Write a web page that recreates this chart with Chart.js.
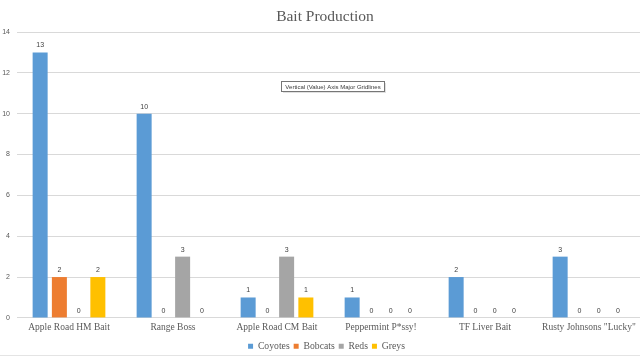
<!DOCTYPE html>
<html>
<head>
<meta charset="utf-8">
<script src="https://cdn.jsdelivr.net/npm/chart.js@4.4.1/dist/chart.umd.min.js"></script>
<style>
  html, body { margin:0; padding:0; background:#fff; overflow:hidden; }
  #wrap { position:relative; width:650px; height:357px; overflow:hidden; }
</style>
</head>
<body>
<div id="wrap"><canvas id="c" width="650" height="361"></canvas></div>
<script>
const categories = ['Apple Road HM Bait', 'Range Boss', 'Apple Road CM Bait', 'Peppermint P*ssy!', 'TF Liver Bait', 'Rusty Johnsons "Lucky"'];
const coyotes = [13, 10, 1, 1, 2, 3];
const bobcats = [2, 0, 0, 0, 0, 0];
const reds    = [0, 3, 3, 0, 0, 0];
const greys   = [2, 0, 1, 0, 0, 0];
const yTicks  = [0, 2, 4, 6, 8, 10, 12, 14];
const titleText = 'Bait Production';
const hoverNote = 'Vertical (Value) Axis Major Gridlines';

const serif = '"Liberation Serif", "Times New Roman", serif';
const sans = '"Liberation Sans", Arial, sans-serif';

const valueLabels = {
  id: 'valueLabels',
  afterDatasetsDraw(chart) {
    const ctx = chart.ctx;
    ctx.save();
    ctx.font = '7px ' + sans;
    ctx.fillStyle = '#404040';
    ctx.textAlign = 'center';
    ctx.textBaseline = 'middle';
    chart.data.datasets.forEach((ds, i) => {
      const meta = chart.getDatasetMeta(i);
      meta.data.forEach((bar, j) => {
        ctx.fillText(String(ds.data[j]), bar.x, bar.y - 7);
      });
    });
    ctx.restore();
  }
};

const legendShift = {
  id: 'legendShift',
  afterLayout(chart) {
    if (chart.legend) {
      chart.legend.left += 6;
      chart.legend.right += 6;
      if (chart.legend.legendHitBoxes) chart.legend.legendHitBoxes.forEach(b => { b.left += 6; });
    }
  }
};

const titleAndNote = {
  id: 'titleAndNote',
  afterDraw(chart) {
    const ctx = chart.ctx;
    ctx.save();
    // title
    ctx.font = '15.5px ' + serif;
    ctx.fillStyle = '#595959';
    ctx.textAlign = 'center';
    ctx.textBaseline = 'middle';
    ctx.fillText(titleText, 325, 17);
    // bottom frame line
    ctx.strokeStyle = '#e4e4e4';
    ctx.lineWidth = 1;
    ctx.beginPath();
    ctx.moveTo(0, 355.5);
    ctx.lineTo(650, 355.5);
    ctx.stroke();
    // hover note
    const x = 281, y = 81, w = 103, h = 10;
    ctx.fillStyle = 'rgba(0,0,0,0.12)';
    ctx.fillRect(x + 2, y + 2, w, h);
    ctx.fillStyle = '#ffffff';
    ctx.fillRect(x, y, w, h);
    ctx.strokeStyle = '#767676';
    ctx.strokeRect(x + 0.5, y + 0.5, w, h);
    ctx.font = '6px ' + sans;
    ctx.fillStyle = '#3a3a3a';
    ctx.fillText(hoverNote, x + w / 2 + 0.5, y + h / 2 + 1);
    ctx.restore();
  }
};

new Chart(document.getElementById('c'), {
  type: 'bar',
  data: {
    labels: categories,
    datasets: [
      { label: 'Coyotes', data: coyotes, backgroundColor: '#5B9BD5' },
      { label: 'Bobcats', data: bobcats, backgroundColor: '#ED7D31' },
      { label: 'Reds', data: reds, backgroundColor: '#A5A5A5' },
      { label: 'Greys', data: greys, backgroundColor: '#FFC000' }
    ]
  },
  options: {
    responsive: false,
    animation: false,
    devicePixelRatio: 1,
    layout: { padding: { left: 0, right: 9, top: 32, bottom: 0 } },
    datasets: { bar: { categoryPercentage: 0.74, barPercentage: 0.78 } },
    plugins: {
      title: { display: false },
      legend: {
        position: 'bottom',
        labels: {
          color: '#595959',
          font: { family: serif, size: 9.7 },
          boxWidth: 5,
          boxHeight: 5,
          padding: 4
        }
      },
      tooltip: { enabled: false }
    },
    scales: {
      x: {
        grid: { display: false, drawTicks: false, tickLength: 0 },
        border: { display: false },
        ticks: {
          color: '#595959',
          font: { family: serif, size: 9.5 },
          maxRotation: 0,
          autoSkip: false,
          padding: 4
        }
      },
      y: {
        min: 0,
        max: 14,
        afterBuildTicks(scale) { scale.ticks = yTicks.map(v => ({ value: v })); },
        afterFit(scale) { scale.width = 17; },
        grid: { color: '#d9d9d9', drawTicks: false },
        border: { display: false },
        ticks: {
          color: '#595959',
          font: { family: sans, size: 7 },
          padding: 7
        }
      }
    }
  },
  plugins: [valueLabels, legendShift, titleAndNote]
});
</script>
</body>
</html>
